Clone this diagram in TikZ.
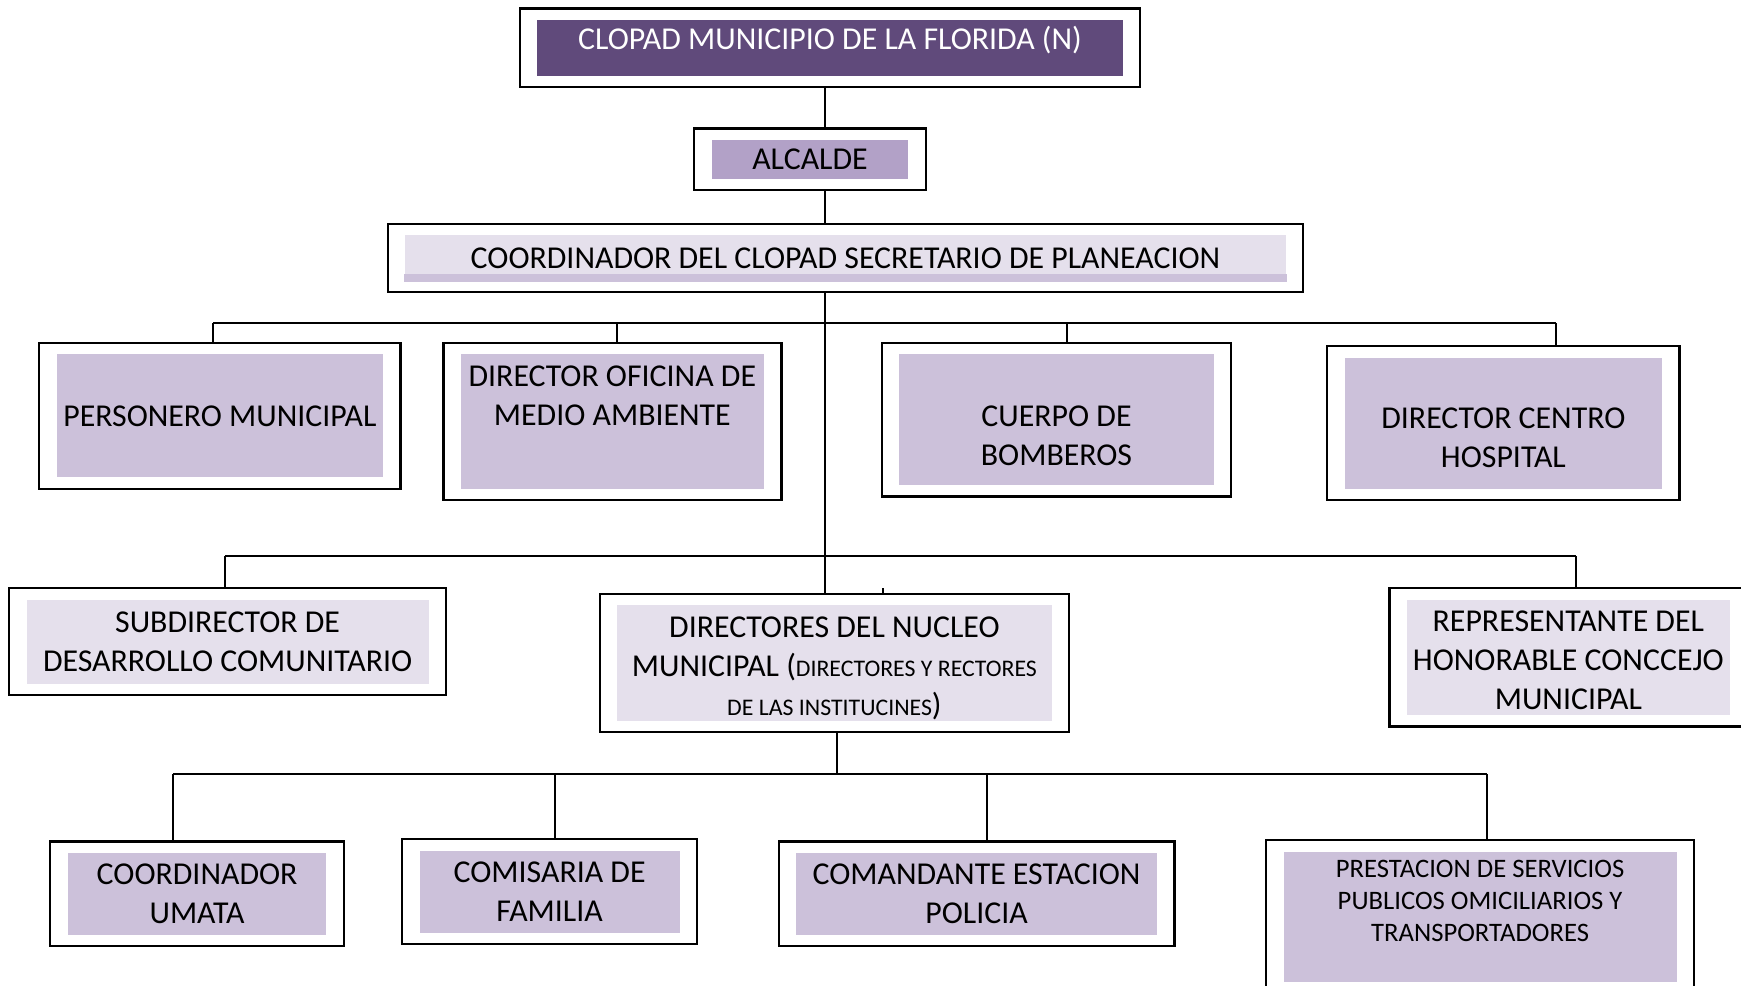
\documentclass[tikz,border=0pt]{standalone}
\usepackage{fontspec}
\setmainfont{Carlito}
\usepackage{xcolor}
\usetikzlibrary{fit,calc}
\definecolor{moradoOsc}{HTML}{604A7B}
\definecolor{moradoAlc}{HTML}{B2A1C7}
\definecolor{moradoMed}{HTML}{CCC1DA}
\definecolor{moradoCla}{HTML}{E5E0EC}

\begin{document}
\begin{tikzpicture}[y=-1cm,
		caja/.style={fill=#1, inner sep=0pt, align=center,
				font=\fontsize{8.16}{9.96}\selectfont},
		marco/.style={draw, line width=0.6pt, inner xsep=0.15cm, inner ysep=0.095cm},
		linea/.style={line width=0.5pt},
	]
	\path[use as bounding box, fill=white] (0,0) rectangle (15.68,8.88);
	%
	\node[caja=moradoOsc, text=white, text depth=5pt, minimum width=5.27cm, minimum height=0.50cm] (clopad) at (7.475,0.43) {CLOPAD MUNICIPIO DE LA FLORIDA (N)};
	\node[marco, fit=(clopad)] (clopadM) {};
	\node[caja=moradoAlc, minimum width=1.77cm, minimum height=0.35cm] (alcalde) at (7.295,1.435) {ALCALDE};
	\node[marco, fit=(alcalde)] (alcaldeM) {};
	\node[caja=moradoCla, minimum width=7.93cm, minimum height=0.41cm] (coord) at (7.615,2.325) {COORDINADOR DEL CLOPAD SECRETARIO DE PLANEACION};
	\fill[moradoMed] (coord.south west) rectangle ($(coord.south east)+(0,-0.07)$);
	\node[marco, fit=(coord)] (coordM) {};
	%
	\node[caja=moradoMed, minimum width=2.94cm, minimum height=1.11cm] (pers) at (1.98,3.745) {PERSONERO MUNICIPAL};
	\node[marco, fit=(pers)] (persM) {};
	\node[caja=moradoMed, text depth=13pt, minimum width=2.73cm, minimum height=1.21cm] (ofi) at (5.515,3.795) {DIRECTOR OFICINA DE\\MEDIO AMBIENTE};
	\node[marco, fit=(ofi)] (ofiM) {};
	\node[caja=moradoMed, text height=23.5pt, minimum width=2.83cm, minimum height=1.18cm] (cuer) at (9.515,3.78) {CUERPO DE\\BOMBEROS};
	\node[marco, fit=(cuer)] (cuerM) {};
	\node[caja=moradoMed, text height=22.6pt, minimum width=2.86cm, minimum height=1.18cm] (cent) at (13.54,3.81) {DIRECTOR CENTRO\\HOSPITAL};
	\node[marco, fit=(cent)] (centM) {};
	%
	\node[caja=moradoCla, minimum width=3.62cm, minimum height=0.76cm] (sub) at (2.05,5.78) {SUBDIRECTOR DE\\DESARROLLO COMUNITARIO};
	\node[marco, fit=(sub)] (subM) {};
	\node[caja=moradoCla, text height=28pt, minimum width=3.91cm, minimum height=1.04cm] (dir) at (7.515,5.97) {DIRECTORES DEL NUCLEO\\MUNICIPAL ({\fontsize{6.1}{9.96}\selectfont DIRECTORES Y RECTORES}\\{\fontsize{6.1}{9.96}\selectfont DE LAS INSTITUCINES})};
	\node[marco, fit=(dir)] (dirM) {};
	\node[caja=moradoCla, text height=26.9pt, minimum width=2.91cm, minimum height=1.04cm] (rep) at (14.125,5.92) {REPRESENTANTE DEL\\HONORABLE CONCCEJO\\MUNICIPAL};
	\node[marco, fit=(rep)] (repM) {};
	%
	\node[caja=moradoMed, minimum width=2.33cm, minimum height=0.74cm] (umata) at (1.775,8.05) {COORDINADOR\\UMATA};
	\node[marco, fit=(umata)] (umataM) {};
	\node[caja=moradoMed, minimum width=2.34cm, minimum height=0.74cm] (comi) at (4.95,8.03) {COMISARIA DE\\FAMILIA};
	\node[marco, fit=(comi)] (comiM) {};
	\node[caja=moradoMed, minimum width=3.25cm, minimum height=0.74cm] (coman) at (8.795,8.05) {COMANDANTE ESTACION\\POLICIA};
	\node[marco, fit=(coman)] (comanM) {};
	\node[caja=moradoMed, font=\fontsize{6.83}{8.25}\selectfont, text depth=8pt, minimum width=3.54cm, minimum height=1.17cm] (prest) at (13.33,8.255) {PRESTACION DE SERVICIOS\\PUBLICOS OMICILIARIOS Y\\TRANSPORTADORES};
	\node[marco, fit=(prest)] (prestM) {};
	%
	\coordinate (eje) at (7.43,0);
	\draw[linea] (clopadM.south -| eje) -- (alcaldeM.north -| eje);
	\draw[linea] (alcaldeM.south -| eje) -- (coordM.north -| eje);
	\draw[linea] (coordM.south -| eje) -- (dirM.north -| eje);
	%
	\coordinate (b1) at (1.92,2.91);
	\coordinate (b2) at (5.56,2.91);
	\coordinate (b3) at (9.61,2.91);
	\coordinate (b4) at (14.01,2.91);
	\draw[linea] (b1) -- (b4);
	\draw[linea] (b1) -- (b1 |- persM.north);
	\draw[linea] (b2) -- (b2 |- ofiM.north);
	\draw[linea] (b3) -- (b3 |- cuerM.north);
	\draw[linea] (b4) -- (b4 |- centM.north);
	%
	\coordinate (c1) at (2.03,5.01);
	\coordinate (c2) at (14.19,5.01);
	\draw[linea] (c1) -- (c2);
	\draw[linea] (c1) -- (c1 |- subM.north);
	\draw[linea] (c2) -- (c2 |- repM.north);
	\coordinate (marca) at (7.95,5.30);
	\draw[linea] (marca) -- (marca |- dirM.north);
	%
	\coordinate (d0) at (7.54,6.97);
	\coordinate (d1) at (1.56,6.97);
	\coordinate (d2) at (5.00,6.97);
	\coordinate (d3) at (8.89,6.97);
	\coordinate (d4) at (13.39,6.97);
	\draw[linea] (d0 |- dirM.south) -- (d0);
	\draw[linea] (d1) -- (d4);
	\draw[linea] (d1) -- (d1 |- umataM.north);
	\draw[linea] (d2) -- (d2 |- comiM.north);
	\draw[linea] (d3) -- (d3 |- comanM.north);
	\draw[linea] (d4) -- (d4 |- prestM.north);
\end{tikzpicture}
\end{document}
